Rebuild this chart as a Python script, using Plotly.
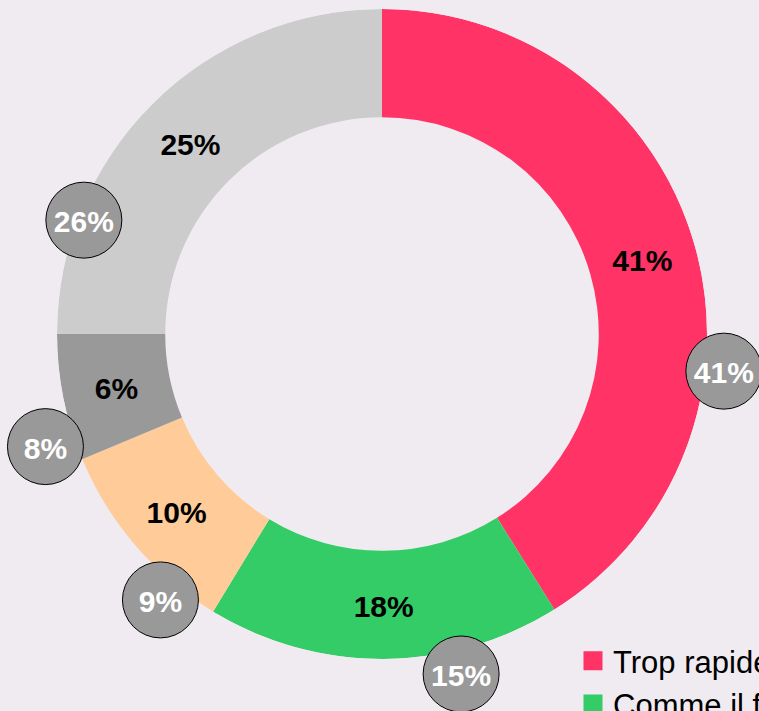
import plotly.graph_objects as go

# ---- data ----
categories = ["Trop rapide", "Comme il faut", "Trop lent", "Ne sait pas", "Non concerné"]
values = [41.1, 17.6, 10.0, 6.3, 25.0]          # shares read from the slice boundaries
compare_values = [41, 15, 9, 8, 26]
colors = ["#FF3366", "#33CC66", "#FFCC99", "#999999", "#CCCCCC"]

# ---- layout / placement config (not data) ----
W, H = 1000, 1000
cx, cy, R = 382, 334, 325          # donut centre and outer radius, px
hole = 0.667                       # inner radius / outer radius
bubble_theta = [96.2, 166.9, 219.8, 251.5, 290.9]   # degrees clockwise from 12 o'clock
bubble_r = [1.058, 1.074, 1.065, 1.092, 0.982]       # relative to outer radius
BG = "#F0EBF0"
FONT = "Liberation Sans, Arial, sans-serif"
LABEL_SIZE = 30
BASE_SIZE = 13.5                   # small base size, used to nudge the labels' baseline
R2MAX = 1.1                        # radial range of the bubble subplot


def label(v):
    # blank first line (at the small base size) lowers the bold label a little
    return f"<br><span style='font-size:{LABEL_SIZE}px'><b>{round(v)}%</b></span>"


# donut subplot domain (full circle)
dom1_x = [(cx - R) / W, (cx + R) / W]
dom1_y = [1 - (cy + R) / H, 1 - (cy - R) / H]
# bubble subplot: sector [150, 360] -> bbox x in [-1, 1], y in [-1, 0.5]
R2 = R * R2MAX
dom2_x = [(cx - R2) / W, (cx + R2) / W]
dom2_y = [1 - (cy + R2) / H, 1 - (cy - 0.5 * R2) / H]

# slice geometry derived from the values
total = sum(values)
spans = [v / total * 360 for v in values]
mids = []
acc = 0
for s in spans:
    mids.append(acc + s / 2)
    acc += s

fig = go.Figure()
for cat, val, col, span, mid in zip(categories, values, colors, spans, mids):
    fig.add_trace(go.Barpolar(
        name=cat,
        r=[1 - hole], base=[hole], theta=[mid], width=[span],
        marker=dict(color=col, line=dict(width=0)),
        subplot="polar",
        hovertext=[f"{cat}: {round(val)}%"], hoverinfo="text",
        legendgroup=cat,
        showlegend=False,
    ))

fig.add_trace(go.Scatterpolar(
    r=[(1 + hole) / 2] * len(values),
    theta=mids,
    mode="text",
    text=[label(v) for v in values],
    textposition="middle center",
    textfont=dict(family=FONT, size=BASE_SIZE, color="black"),
    subplot="polar",
    showlegend=False,
    hoverinfo="skip",
))

fig.add_trace(go.Scatterpolar(
    r=bubble_r,
    theta=bubble_theta,
    mode="markers+text",
    text=[label(v) for v in compare_values],
    textposition="middle center",
    textfont=dict(family=FONT, size=BASE_SIZE, color="white"),
    marker=dict(size=76, color="#999999", line=dict(color="black", width=1)),
    cliponaxis=False,
    subplot="polar2",
    showlegend=False,
    hoverinfo="skip",
))

# legend entries (larger square swatches than the default bar swatch)
for cat, col in zip(categories, colors):
    fig.add_trace(go.Scatterpolar(
        r=[None], theta=[None],
        mode="markers",
        name=cat,
        legendgroup=cat,
        marker=dict(symbol="square", size=16, color=col, line=dict(color=col, width=3)),
        subplot="polar",
        showlegend=True,
        hoverinfo="skip",
    ))

axis_off = dict(visible=False, showgrid=False, showline=False, showticklabels=False, ticks="")
fig.update_layout(
    width=W, height=H,
    margin=dict(l=0, r=0, t=0, b=0),
    paper_bgcolor=BG,
    plot_bgcolor=BG,
    polar=dict(
        domain=dict(x=dom1_x, y=dom1_y),
        bgcolor="rgba(0,0,0,0)",
        radialaxis=dict(range=[0, 1], **axis_off),
        angularaxis=dict(rotation=90, direction="clockwise", **axis_off),
        bargap=0,
    ),
    polar2=dict(
        domain=dict(x=dom2_x, y=dom2_y),
        sector=[150, 360],
        bgcolor="rgba(0,0,0,0)",
        radialaxis=dict(range=[0, R2MAX], **axis_off),
        angularaxis=dict(rotation=90, direction="clockwise", **axis_off),
    ),
    legend=dict(
        x=573 / W, y=1 - 634 / H, xanchor="left", yanchor="top",
        font=dict(family=FONT, size=31, color="black"),
        bgcolor="rgba(0,0,0,0)",
        itemsizing="trace",
        tracegroupgap=0,
    ),
)

fig.write_html(
    "out.html",
    post_script=f"document.body.style.margin='0';document.body.style.background='{BG}';",
)
